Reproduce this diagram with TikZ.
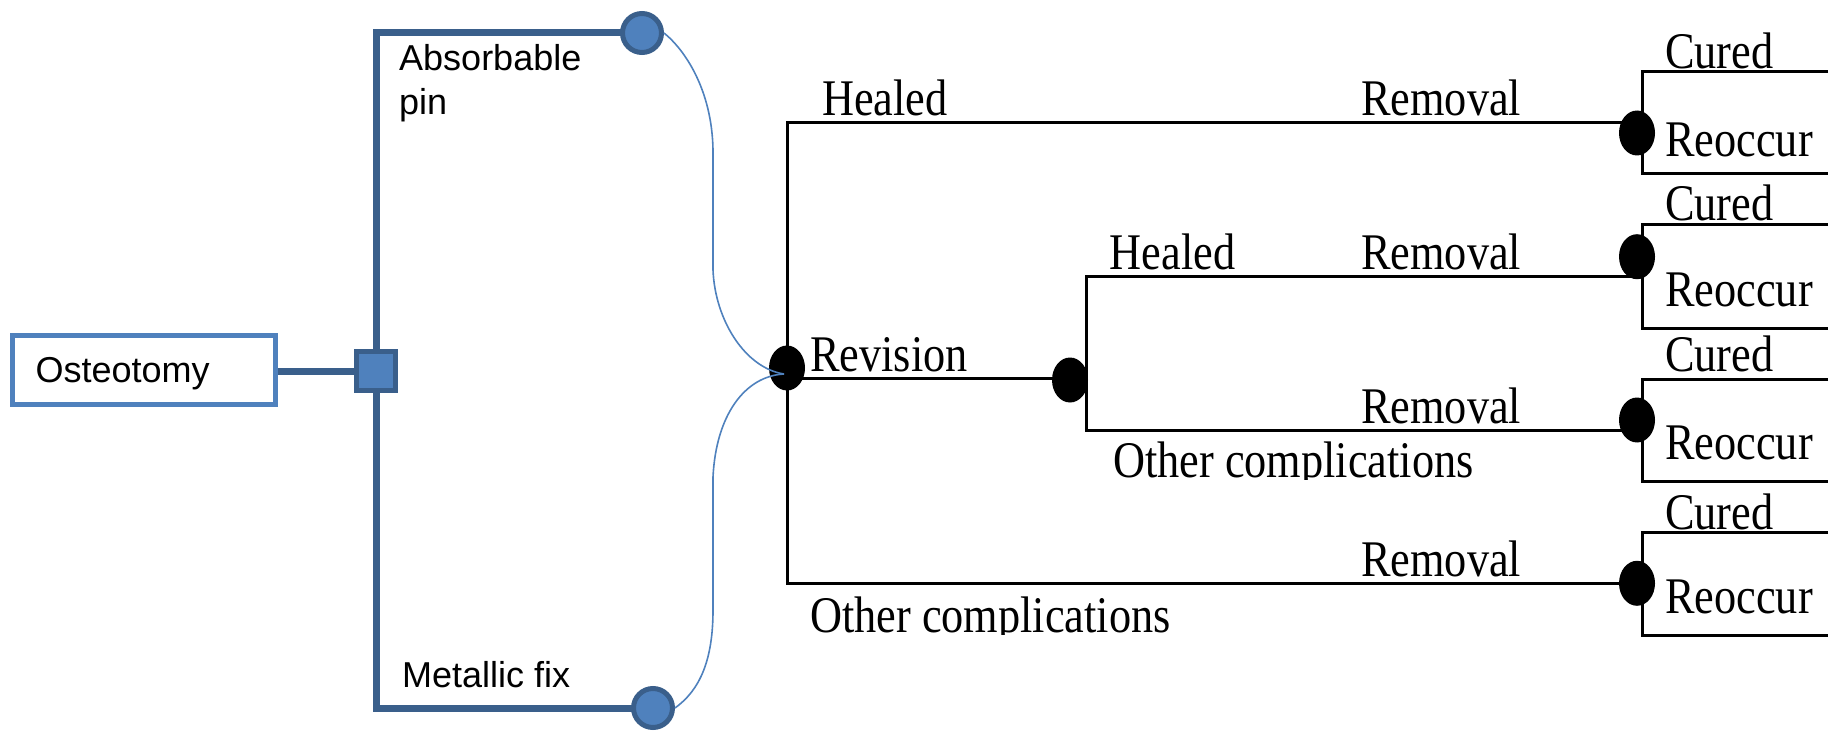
\documentclass[tikz,border=0pt]{standalone}
\usepackage{fontspec}
\newfontfamily\tnr{Liberation Serif}
\newfontfamily\arl{Liberation Sans}
\usetikzlibrary{shapes.geometric,backgrounds,calc}
\definecolor{accent}{HTML}{4F81BD}
\definecolor{dblue}{HTML}{3A5F8B}
\newcommand{\tlabtext}[1]{\scalebox{1}[1.16]{#1}}
\begin{document}
\begin{tikzpicture}[x=1pt,y=-1pt,
  ostbox/.style={draw=accent, line width=5pt, fill=white, minimum width=263pt, minimum height=69pt,
    inner xsep=23pt, inner ysep=0pt, text width=217pt, align=left, text height=30pt, text depth=3.6pt,
    font=\arl\fontsize{36}{43}\selectfont},
  bluesq/.style={draw=dblue, fill=accent, line width=5pt, minimum size=39pt, inner sep=0pt},
  bluecirc/.style={circle, draw=dblue, fill=accent, line width=5pt, minimum size=39pt, inner sep=0pt},
  chancedot/.style={ellipse, fill=black, minimum width=36pt, minimum height=45pt, inner sep=0pt},
  tline/.style={draw=dblue, line width=7pt, line join=miter},
  treeline/.style={draw=black, line width=3pt, line join=miter},
  thincurve/.style={draw=accent, line width=1.6pt},
  tlab/.style={font=\tnr\fontsize{44.3}{50}\selectfont, anchor=base west, inner sep=0pt},
  alab/.style={font=\arl\fontsize{36}{43}\selectfont, anchor=base west, inner sep=0pt}]
\useasboundingbox (0,0) rectangle (1835,735);

% left part
\node[ostbox] (ost) at (144,369.5) {Osteotomy};
\node[bluesq] (sq) at (376,371) {};
\node[bluecirc] (abscirc) at (642,33) {};
\node[bluecirc] (metcirc) at (653,708) {};
\node[alab] (abs1) at (399,70.7) {Absorbable};
\node[alab] (abs2) at (399,115) {pin};
\node[alab] (metl) at (402,687.3) {Metallic fix};

\begin{scope}[on background layer]
  \draw[tline] (ost.east |- sq.west) -- (sq.west);
  \draw[tline] (abscirc.center) -| (sq.center) |- (metcirc.center);
\end{scope}

% chance nodes
\node[chancedot] (rev) at (787,368) {};
\node[chancedot] (c2) at (1070,380) {};
\node[chancedot] (r1) at (1637,133) {};
\node[chancedot] (r2) at (1637,256.7) {};
\node[chancedot] (r3) at (1637,420) {};
\node[chancedot] (r4) at (1637,583.3) {};

% tree lines
\draw[treeline] ([yshift=10pt]r1.center) -| (rev.center) |- (r4.center);
\draw[treeline] ([yshift=-10.3pt]rev.center) -- ([yshift=1.7pt]c2.center);
\draw[treeline] ([yshift=-19.3pt]r2.center) -| ([xshift=16pt]c2.center) |- ([yshift=-10pt]r3.center);

\coordinate (t1) at (1828,71.7);  \coordinate (b1) at (1828,173.3);
\coordinate (t2) at (1828,225);   \coordinate (b2) at (1828,328.3);
\coordinate (t3) at (1828,379);   \coordinate (b3) at (1828,481);
\coordinate (t4) at (1828,532.3); \coordinate (b4) at (1828,635);
\draw[treeline] (t1) -| ([xshift=5pt]r1.center) |- (b1);
\draw[treeline] (t2) -| ([xshift=5pt]r2.center) |- (b2);
\draw[treeline] (t3) -| ([xshift=5pt]r3.center) |- (b3);
\draw[treeline] (t4) -| ([xshift=5pt]r4.center) |- (b4);

% curves
\draw[thincurve] (abscirc.east) .. controls (685,50) and (712,90) .. (713,150) -- (713,270)
   .. controls (715,320) and (745,368) .. ([shift={(-3pt,-6pt)}]rev.center);
\draw[thincurve] (metcirc.east) .. controls (700,690) and (713,660) .. (713,610) -- (713,477)
   .. controls (716,415) and (745,376) .. ([shift={(-3pt,-6pt)}]rev.center);

% labels
\node[tlab] (healed1) at (822,116) {\tlabtext{Healed}};
\node[tlab] (revl) at (810,371) {\tlabtext{Revision}};
\node[tlab] (healed2) at (1109.6,269.3) {\tlabtext{Healed}};
\node[tlab] (rem1) at (1361,116) {\tlabtext{Removal}};
\node[tlab] (rem2) at (1361,269.3) {\tlabtext{Removal}};
\node[tlab] (rem3) at (1361,423.3) {\tlabtext{Removal}};
\node[tlab] (rem4) at (1361,576.7) {\tlabtext{Removal}};
\node[tlab] (cur1) at (1665,69) {\tlabtext{Cured}};
\node[tlab] (reo1) at (1665,156.7) {\tlabtext{Reoccur}};
\node[tlab] (cur2) at (1665,221) {\tlabtext{Cured}};
\node[tlab] (reo2) at (1665,306.7) {\tlabtext{Reoccur}};
\node[tlab] (cur3) at (1665,371) {\tlabtext{Cured}};
\node[tlab] (reo3) at (1665,459.3) {\tlabtext{Reoccur}};
\node[tlab] (cur4) at (1665,529.3) {\tlabtext{Cured}};
\node[tlab] (reo4) at (1665,613.3) {\tlabtext{Reoccur}};
\begin{scope}
  \clip (1100,432) rectangle (1500,479.5);
  \node[tlab] (oc1) at (1113,477.7) {\tlabtext{Other complications}};
\end{scope}
\begin{scope}
  \clip (800,586) rectangle (1200,634.5);
  \node[tlab] (oc2) at (810,632.7) {\tlabtext{Other complications}};
\end{scope}
\end{tikzpicture}
\end{document}
